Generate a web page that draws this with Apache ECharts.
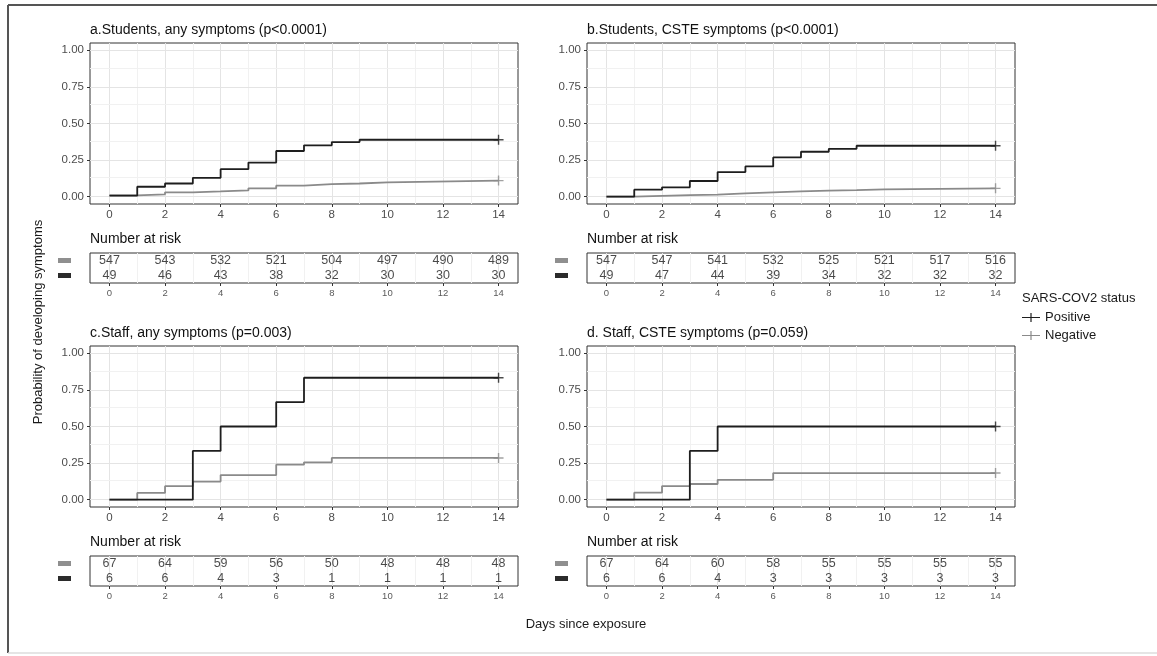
<!DOCTYPE html>
<html>
<head>
<meta charset="utf-8">
<script src="https://cdn.jsdelivr.net/npm/echarts@6.0.0/dist/echarts.min.js"></script>
<style>
html,body{margin:0;padding:0;background:#ffffff;}
#chart{width:1157px;height:656px;}
</style>
</head>
<body>
<div id="chart"></div>
<script>
// ---------------- data ----------------
const panelTitles = [
  'a.Students, any symptoms (p<0.0001)',
  'b.Students, CSTE symptoms (p<0.0001)',
  'c.Staff, any symptoms (p=0.003)',
  'd. Staff, CSTE symptoms (p=0.059)'
];
const xTicks = [0, 2, 4, 6, 8, 10, 12, 14];
const xMinor = [1, 3, 5, 7, 9, 11, 13];
const yTicks = [0, 0.25, 0.5, 0.75, 1];
const yMinor = [0.125, 0.375, 0.625, 0.875];
const riskDays = [0, 2, 4, 6, 8, 10, 12, 14];
const groups = ['Positive', 'Negative'];

// a. Students, any symptoms
const aPosX = [0, 1, 2, 3, 4, 5, 6, 7, 8, 9, 14];
const aPosY = [0.007, 0.068, 0.09, 0.129, 0.188, 0.233, 0.312, 0.351, 0.373, 0.389, 0.389];
const aNegX = [0, 1, 2, 3, 4, 5, 6, 7, 8, 9, 10, 14];
const aNegY = [0.009, 0.016, 0.03, 0.036, 0.043, 0.057, 0.075, 0.086, 0.09, 0.098, 0.11, 0.11];
const aRiskNeg = [547, 543, 532, 521, 504, 497, 490, 489];
const aRiskPos = [49, 46, 43, 38, 32, 30, 30, 30];

// b. Students, CSTE symptoms
const bPosX = [0, 1, 2, 3, 4, 5, 6, 7, 8, 9, 14];
const bPosY = [0, 0.048, 0.064, 0.107, 0.168, 0.207, 0.268, 0.307, 0.327, 0.348, 0.348];
const bNegX = [0, 1, 2, 3, 4, 5, 6, 7, 8, 9, 10, 14];
const bNegY = [0, 0.005, 0.01, 0.014, 0.023, 0.03, 0.036, 0.041, 0.045, 0.05, 0.057, 0.057];
const bRiskNeg = [547, 547, 541, 532, 525, 521, 517, 516];
const bRiskPos = [49, 47, 44, 39, 34, 32, 32, 32];

// c. Staff, any symptoms
const cPosX = [0, 3, 4, 6, 7, 14];
const cPosY = [0, 0.333, 0.5, 0.667, 0.833, 0.833];
const cNegX = [0, 1, 2, 3, 4, 6, 7, 8, 14];
const cNegY = [0, 0.046, 0.092, 0.124, 0.168, 0.239, 0.255, 0.285, 0.285];
const cRiskNeg = [67, 64, 59, 56, 50, 48, 48, 48];
const cRiskPos = [6, 6, 4, 3, 1, 1, 1, 1];

// d. Staff, CSTE symptoms
const dPosX = [0, 3, 4, 14];
const dPosY = [0, 0.333, 0.5, 0.5];
const dNegX = [0, 1, 2, 3, 4, 6, 14];
const dNegY = [0, 0.048, 0.093, 0.107, 0.136, 0.182, 0.182];
const dRiskNeg = [67, 64, 60, 58, 55, 55, 55, 55];
const dRiskPos = [6, 6, 4, 3, 3, 3, 3, 3];

// ---------------- layout / style ----------------
const FONT = '"Liberation Sans", Arial, Helvetica, sans-serif';
const COL_POS = '#1e1e1e';
const COL_NEG = '#8a8a8a';
const colLeft = [90, 587];
const rowPlotTop = [43, 346];
const rowTabTop = [253, 556];
const PW = 428, PH = 161, TH = 30;
const XMIN = -0.7, XMAX = 14.7;
const plusPath = 'path://M4.3,0H5.7V4.3H10V5.7H5.7V10H4.3V5.7H0V4.3H4.3Z';
const legendPath = 'path://M0,9.3H24V10.7H0Z M11.2,4H12.8V16H11.2Z';

const panels = [
  {title: panelTitles[0], posX: aPosX, posY: aPosY, negX: aNegX, negY: aNegY, riskPos: aRiskPos, riskNeg: aRiskNeg},
  {title: panelTitles[1], posX: bPosX, posY: bPosY, negX: bNegX, negY: bNegY, riskPos: bRiskPos, riskNeg: bRiskNeg},
  {title: panelTitles[2], posX: cPosX, posY: cPosY, negX: cNegX, negY: cNegY, riskPos: cRiskPos, riskNeg: cRiskNeg},
  {title: panelTitles[3], posX: dPosX, posY: dPosY, negX: dNegX, negY: dNegY, riskPos: dRiskPos, riskNeg: dRiskNeg}
];

const zip = (xs, ys) => xs.map((x, k) => [x, ys[k]]);

const plotGrids = [], tabGrids = [];
const plotX = [], tabX = [], plotY = [], tabY = [];
const series = [], titles = [];

const gridMark = (withY) => {
  const d = [];
  xTicks.forEach(v => d.push({xAxis: v, lineStyle: {color: '#e4e4e4', width: 1, type: 'solid'}}));
  xMinor.forEach(v => d.push({xAxis: v, lineStyle: {color: '#f1f1f1', width: 1, type: 'solid'}}));
  if (withY) {
    yTicks.forEach(v => d.push({yAxis: v, lineStyle: {color: '#e4e4e4', width: 1, type: 'solid'}}));
    yMinor.forEach(v => d.push({yAxis: v, lineStyle: {color: '#f1f1f1', width: 1, type: 'solid'}}));
  }
  return {silent: true, z: 0, zlevel: 0, symbol: ['none', 'none'], label: {show: false},
    emphasis: {disabled: true}, animation: false, data: d};
};

panels.forEach((p, i) => {
  const col = i % 2, row = Math.floor(i / 2);
  // ----- survival plot (grid i) -----
  plotGrids.push({left: colLeft[col], top: rowPlotTop[row], width: PW, height: PH,
    show: true, borderColor: '#333333', borderWidth: 1, backgroundColor: 'transparent'});
  plotX.push({gridIndex: i, type: 'value', min: XMIN, max: XMAX, position: 'bottom',
    axisLine: {show: false, onZero: false}, splitLine: {show: false},
    axisTick: {show: true, length: 3, customValues: xTicks, lineStyle: {color: '#333'}},
    axisLabel: {customValues: xTicks, color: '#4d4d4d', fontSize: 11.5, fontFamily: FONT, margin: 5}});
  plotY.push({gridIndex: i, type: 'value', min: -0.05, max: 1.05, position: 'left',
    axisLine: {show: false, onZero: false}, splitLine: {show: false},
    axisTick: {show: true, length: 3, customValues: yTicks, lineStyle: {color: '#333'}},
    axisLabel: {customValues: yTicks, color: '#4d4d4d', fontSize: 11.5, fontFamily: FONT, margin: 6,
      formatter: v => Number(v).toFixed(2)}});
  series.push({type: 'line', data: [], xAxisIndex: i, yAxisIndex: i, z: 0, silent: true,
    markLine: gridMark(true)});
  series.push({name: 'Negative', type: 'line', step: 'end', xAxisIndex: i, yAxisIndex: i, z: 8,
    showSymbol: false, data: zip(p.negX, p.negY),
    lineStyle: {color: COL_NEG, width: 1.8}, itemStyle: {color: COL_NEG}});
  series.push({name: 'Positive', type: 'line', step: 'end', xAxisIndex: i, yAxisIndex: i, z: 9,
    showSymbol: false, data: zip(p.posX, p.posY),
    lineStyle: {color: COL_POS, width: 1.8}, itemStyle: {color: COL_POS}});
  series.push({name: 'Negative', type: 'scatter', xAxisIndex: i, yAxisIndex: i, z: 10,
    symbol: plusPath, symbolSize: 10, itemStyle: {color: COL_NEG},
    data: [[p.negX[p.negX.length - 1], p.negY[p.negY.length - 1]]]});
  series.push({name: 'Positive', type: 'scatter', xAxisIndex: i, yAxisIndex: i, z: 10,
    symbol: plusPath, symbolSize: 10, itemStyle: {color: COL_POS},
    data: [[p.posX[p.posX.length - 1], p.posY[p.posY.length - 1]]]});
  titles.push({text: p.title, left: colLeft[col], top: rowPlotTop[row] - 20, padding: 0,
    textStyle: {fontSize: 14, fontWeight: 'normal', color: '#111', fontFamily: FONT}});

  // ----- risk table (grid 4 + i) -----
  const t = 4 + i;
  tabGrids.push({left: colLeft[col], top: rowTabTop[row], width: PW, height: TH,
    show: true, borderColor: '#333333', borderWidth: 1, backgroundColor: 'transparent'});
  tabX.push({gridIndex: t, type: 'value', min: XMIN, max: XMAX, position: 'bottom',
    axisLine: {show: false, onZero: false}, splitLine: {show: false},
    axisTick: {show: true, length: 3, customValues: riskDays, lineStyle: {color: '#333'}},
    axisLabel: {customValues: riskDays, color: '#5a5a5a', fontSize: 9.5, fontFamily: FONT, margin: 5}});
  tabY.push({gridIndex: t, type: 'category', data: groups, position: 'left',
    axisLine: {show: false, onZero: false}, axisTick: {show: false}, splitLine: {show: false},
    axisLabel: {interval: 0, margin: 19, formatter: v => (v === 'Positive' ? '{p| }' : '{n| }'),
      rich: {p: {width: 13, height: 5, backgroundColor: '#2b2b2b', fontSize: 5, lineHeight: 5},
             n: {width: 13, height: 5, backgroundColor: '#8f8f8f', fontSize: 5, lineHeight: 5}}}});
  series.push({type: 'line', data: [], xAxisIndex: t, yAxisIndex: t, z: 0, silent: true,
    markLine: gridMark(false)});
  const cells = [];
  riskDays.forEach((d, k) => {
    cells.push([d, 'Negative', p.riskNeg[k]]);
    cells.push([d, 'Positive', p.riskPos[k]]);
  });
  series.push({name: 'risk', type: 'scatter', xAxisIndex: t, yAxisIndex: t, z: 10, silent: true,
    symbol: 'circle', symbolSize: 1, itemStyle: {color: 'rgba(0,0,0,0)'},
    data: cells,
    label: {show: true, position: 'inside', formatter: q => q.value[2],
      color: '#1a1a1a', fontSize: 12.5, fontFamily: FONT}});
  titles.push({text: 'Number at risk', left: colLeft[col], top: rowTabTop[row] - 21, padding: 0,
    textStyle: {fontSize: 14, fontWeight: 'normal', color: '#111', fontFamily: FONT}});
});

titles.push({text: 'SARS-COV2 status', left: 1022, top: 292, padding: 0,
  textStyle: {fontSize: 13, fontWeight: 'normal', color: '#1a1a1a', fontFamily: FONT}});

const option = {
  animation: false,
  backgroundColor: '#ffffff',
  title: titles,
  grid: plotGrids.concat(tabGrids),
  xAxis: plotX.concat(tabX),
  yAxis: plotY.concat(tabY),
  series: series,
  legend: {
    data: [{name: 'Positive', icon: legendPath}, {name: 'Negative', icon: legendPath}],
    orient: 'vertical', left: 1022, top: 311, itemWidth: 18, itemHeight: 11, itemGap: 5,
    selectedMode: false, padding: 0,
    textStyle: {fontSize: 13, color: '#1a1a1a', fontFamily: FONT}
  },
  graphic: [
    {type: 'line', silent: true, shape: {x1: 8, y1: 5, x2: 1157, y2: 5}, style: {stroke: '#555', lineWidth: 2}},
    {type: 'line', silent: true, shape: {x1: 8, y1: 5, x2: 8, y2: 653}, style: {stroke: '#555', lineWidth: 2}},
    {type: 'line', silent: true, shape: {x1: 8, y1: 653, x2: 1157, y2: 653}, style: {stroke: '#dddddd', lineWidth: 1.5}},
    {type: 'text', silent: true, x: 38, y: 322, rotation: Math.PI / 2,
      style: {text: 'Probability of developing symptoms', fontSize: 13, fontFamily: FONT, fill: '#1a1a1a',
        align: 'center', verticalAlign: 'middle'}},
    {type: 'text', silent: true, x: 586, y: 624,
      style: {text: 'Days since exposure', fontSize: 13, fontFamily: FONT, fill: '#1a1a1a',
        align: 'center', verticalAlign: 'middle'}}
  ]
};

const chart = echarts.init(document.getElementById('chart'), null, {renderer: 'canvas'});
chart.setOption(option);
</script>
</body>
</html>
